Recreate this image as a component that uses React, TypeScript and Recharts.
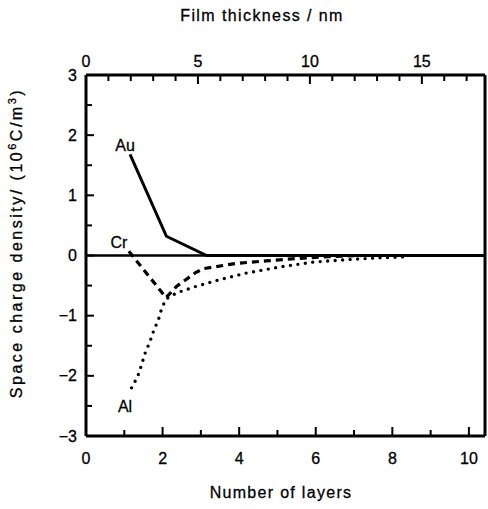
import React from "react";
import { LineChart, Line, XAxis, YAxis, ReferenceLine, ReferenceDot } from "recharts";

// Number of layers (x) and space charge density (y, 10^6 C/m^3)
const auLayers = [1.15, 2.1, 3.15, 4.0, 10.4];
const auDensity = [1.68, 0.32, 0.0, 0.0, 0.0];

const crLayers = [1.12, 2.09, 2.37, 2.85, 3.06, 3.93, 4.7, 5.5, 6.3, 7.2];
const crDensity = [0.07, -0.7, -0.51, -0.29, -0.22, -0.13, -0.09, -0.05, -0.02, 0.0];

const alLayers = [1.19, 1.35, 1.45, 1.54, 1.67, 1.78, 1.89, 1.98, 2.1, 2.37, 2.89, 3.5, 4.2, 5.07, 5.93, 6.8, 7.6, 8.4];
const alDensity = [-2.2, -2.01, -1.82, -1.63, -1.43, -1.23, -1.07, -0.87, -0.72, -0.62, -0.51, -0.4, -0.29, -0.19, -0.11, -0.07, -0.04, -0.02];

// film thickness range (nm) spanned by the top axis
const nmRange = [0, 17.82];

const layerTicks = [0, 1, 2, 3, 4, 5, 6, 7, 8, 9, 10];
const layerLabels = [0, 2, 4, 6, 8, 10];
const nmTicks = [0, 1, 2, 3, 4, 5, 6, 7, 8, 9, 10, 11, 12, 13, 14, 15, 16, 17];
const nmLabels = [0, 5, 10, 15];
const densityTicks = [-3, -2.5, -2, -1.5, -1, -0.5, 0, 0.5, 1, 1.5, 2, 2.5, 3];
const densityLabels = [-3, -2, -1, 0, 1, 2, 3];

const seriesNames = ["Au", "Cr", "Al"];
const nameLayers = [1.02, 0.86, 1.02];
const nameDensity = [1.83, 0.22, -2.5];

const toRows = (xs: number[], ys: number[]) => xs.map((x, i) => ({ x, y: ys[i] }));
const auData = toRows(auLayers, auDensity);
const crData = toRows(crLayers, crDensity);
const alData = toRows(alLayers, alDensity);
const nmData = nmRange.map((x) => ({ x, y: 0 }));

const FONT = "'Liberation Sans', Arial, Helvetica, sans-serif";
const fmt = (v: number) => (v < 0 ? "\u2212" + Math.abs(v) : String(v));
const TICK = "#000";

const BottomTick = (props: any) => {
  const { x, y, payload } = props;
  const v = payload.value;
  const major = layerLabels.includes(v);
  return (
    <g>
      <path d={`M${x},${y}V${y - (major ? 9 : 6)}`} stroke={TICK} strokeWidth={2} fill="none" />
      {major && (
        <text x={x} y={y + 22} textAnchor="middle" dominantBaseline="central" fontSize={16} fontFamily={FONT} fill="#000" stroke="#000" strokeWidth={0.3}>
          {fmt(v)}
        </text>
      )}
    </g>
  );
};

const TopTick = (props: any) => {
  const { x, y, payload } = props;
  const v = payload.value;
  const major = nmLabels.includes(v);
  return (
    <g>
      <path d={`M${x},${y}V${y + (major ? 9 : 6)}`} stroke={TICK} strokeWidth={2} fill="none" />
      {major && (
        <text x={x} y={y - 14} textAnchor="middle" dominantBaseline="central" fontSize={16} fontFamily={FONT} fill="#000" stroke="#000" strokeWidth={0.3}>
          {fmt(v)}
        </text>
      )}
    </g>
  );
};

const LeftTick = (props: any) => {
  const { x, y, payload } = props;
  const v = payload.value;
  const major = densityLabels.includes(v);
  return (
    <g>
      <path d={`M${x},${y}H${x + (major ? 8 : 6)}`} stroke={TICK} strokeWidth={2} fill="none" />
      {major && (
        <text x={x - 9} y={y} textAnchor="end" dominantBaseline="central" fontSize={16} fontFamily={FONT} fill="#000" stroke="#000" strokeWidth={0.3}>
          {fmt(v)}
        </text>
      )}
    </g>
  );
};

const textStroke = { WebkitTextStroke: "0.3px #000" } as React.CSSProperties;

export default function App() {
  return (
    <div style={{ position: "absolute", left: 0, top: 0, width: 488, height: 509, background: "#fff", fontFamily: FONT, color: "#000" }}>
      <LineChart width={488} height={509} margin={{ top: 45, right: 1, bottom: 43, left: 0 }}>
        <XAxis
          xAxisId="bottom"
          dataKey="x"
          type="number"
          orientation="bottom"
          domain={[0, 10.42]}
          ticks={layerTicks}
          allowDataOverflow
          height={30}
          tickSize={0}
          tickMargin={0}
          tickLine={false}
          tick={BottomTick}
          interval={0}
          axisLine={{ stroke: "#000", strokeWidth: 3 }}
        />
        <XAxis
          xAxisId="top"
          dataKey="x"
          type="number"
          orientation="top"
          domain={nmRange}
          ticks={nmTicks}
          allowDataOverflow
          height={30}
          tickSize={0}
          tickMargin={0}
          tickLine={false}
          tick={TopTick}
          interval={0}
          axisLine={{ stroke: "#000", strokeWidth: 3 }}
        />
        <YAxis
          yAxisId="left"
          type="number"
          domain={[-3, 3]}
          ticks={densityTicks}
          allowDataOverflow
          width={86}
          tickSize={0}
          tickMargin={0}
          tickLine={false}
          tick={LeftTick}
          interval={0}
          axisLine={{ stroke: "#000", strokeWidth: 3 }}
        />
        <YAxis
          yAxisId="right"
          orientation="right"
          type="number"
          domain={[-3, 3]}
          width={2}
          tick={false}
          tickLine={false}
          axisLine={{ stroke: "#000", strokeWidth: 3 }}
        />
        <ReferenceLine xAxisId="bottom" yAxisId="left" y={0} stroke="#000" strokeWidth={2.6} />
        <Line
          xAxisId="top"
          yAxisId="right"
          data={nmData}
          dataKey="y"
          type="linear"
          stroke="none"
          strokeWidth={0}
          dot={false}
          activeDot={false}
          isAnimationActive={false}
        />
        <Line
          xAxisId="bottom"
          yAxisId="left"
          data={auData}
          dataKey="y"
          type="linear"
          stroke="#000"
          strokeWidth={3}
          dot={false}
          isAnimationActive={false}
        />
        <Line
          xAxisId="bottom"
          yAxisId="left"
          data={crData}
          dataKey="y"
          type="linear"
          stroke="#000"
          strokeWidth={3.2}
          strokeDasharray="7 5"
          dot={false}
          isAnimationActive={false}
        />
        <Line
          xAxisId="bottom"
          yAxisId="left"
          data={alData}
          dataKey="y"
          type="linear"
          stroke="#000"
          strokeWidth={3.4}
          strokeLinecap="round"
          strokeDasharray="0 7.5"
          dot={false}
          isAnimationActive={false}
        />
        {seriesNames.map((n, i) => (
          <ReferenceDot
            key={n}
            xAxisId="bottom"
            yAxisId="left"
            x={nameLayers[i]}
            y={nameDensity[i]}
            r={0}
            fill="none"
            stroke="none"
            label={{ value: n, position: "center", fontSize: 16, fontFamily: FONT, fill: "#000", stroke: "#000", strokeWidth: 0.3 }}
          />
        ))}
      </LineChart>
      <div
        style={{
          position: "absolute",
          left: 0,
          width: 488,
          top: 6,
          textAlign: "center",
          fontSize: 16,
          lineHeight: "20px",
          letterSpacing: 1.4,
          paddingLeft: 36,
          boxSizing: "border-box",
          ...textStroke,
        }}
      >
        Film thickness / nm
      </div>
      <div
        style={{
          position: "absolute",
          left: 0,
          width: 488,
          top: 483,
          textAlign: "center",
          fontSize: 16,
          lineHeight: "20px",
          letterSpacing: 1.3,
          paddingLeft: 74,
          boxSizing: "border-box",
          ...textStroke,
        }}
      >
        Number of layers
      </div>
      <div
        style={{
          position: "absolute",
          left: 17 - 200,
          top: 243 - 11,
          width: 400,
          height: 22,
          lineHeight: "22px",
          textAlign: "center",
          fontSize: 16,
          letterSpacing: 2.5,
          transform: "rotate(-90deg)",
          whiteSpace: "nowrap",
          ...textStroke,
        }}
      >
        Space charge density/ (10<sup style={{ fontSize: 11, lineHeight: 0 }}>6</sup>C/m<sup style={{ fontSize: 11, lineHeight: 0 }}>3</sup>)
      </div>
    </div>
  );
}
